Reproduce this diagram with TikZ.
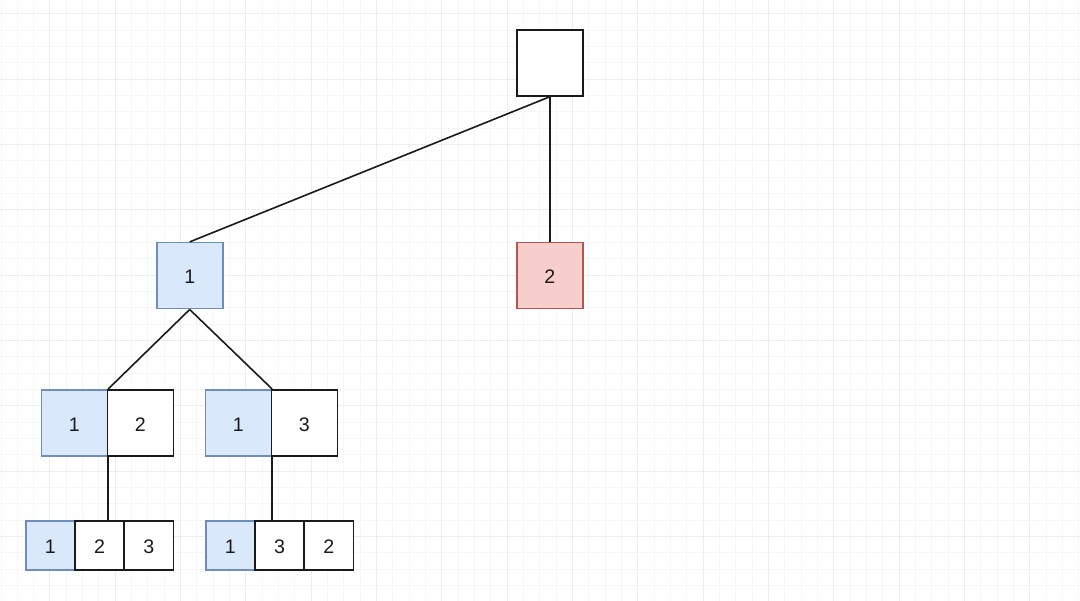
\documentclass[tikz,border=0pt]{standalone}
\usepackage{fontspec}
\setmainfont{Liberation Sans}
\definecolor{bluefill}{HTML}{DAE8FC}
\definecolor{bluedraw}{HTML}{6C8EBF}
\definecolor{redfill}{HTML}{F8CECC}
\definecolor{reddraw}{HTML}{B85450}
\definecolor{gridminor}{HTML}{F6F6F6}
\definecolor{gridmajor}{HTML}{EDEDED}
\definecolor{ink}{HTML}{1A1A1A}
\begin{document}
\begin{tikzpicture}[x=1pt,y=-1pt,
  cell/.style={draw=ink,fill=white,line width=1.6pt,inner sep=0pt,
    font=\fontsize{19.6}{23}\selectfont,text=ink,text height=16.6pt,text depth=0pt},
  bluecell/.style={cell,draw=bluedraw,fill=bluefill},
  redcell/.style={cell,draw=reddraw,fill=redfill},
  big/.style={minimum width=66pt,minimum height=66pt},
  small/.style={minimum width=49.2pt,minimum height=49pt},
  link/.style={draw=ink,line width=1.6pt}]
\useasboundingbox (0,0) rectangle (1080,601);
\fill[white] (0,0) rectangle (1080,601);
% grid
\foreach \k in {0,...,66}{
  \pgfmathsetmacro{\gx}{1.0+16.333*\k}
  \pgfmathtruncatemacro{\m}{mod(\k,4)}
  \ifnum\m=3
    \draw[gridmajor,line width=1pt] (\gx,0) -- (\gx,601);
  \else
    \draw[gridminor,line width=1pt] (\gx,0) -- (\gx,601);
  \fi
}
\foreach \k in {0,...,36}{
  \pgfmathsetmacro{\gy}{14+16.333*\k}
  \pgfmathtruncatemacro{\m}{mod(\k,4)}
  \ifnum\m=0
    \draw[gridmajor,line width=1pt] (0,\gy) -- (1080,\gy);
  \else
    \draw[gridminor,line width=1pt] (0,\gy) -- (1080,\gy);
  \fi
}
% nodes
\node[cell,big] (root) at (549.7,63) {};
\node[bluecell,big] (n1) at (189.7,275.7) {1};
\node[redcell,big] (n2) at (549.7,275.7) {2};
\node[bluecell,big] (a1) at (74.4,422.8) {1};
\node[cell,big] (a2) at (140.3,422.8) {2};
\node[bluecell,big] (b1) at (238.3,422.8) {1};
\node[cell,big] (b2) at (304.3,422.8) {3};
\node[bluecell,small] (c1) at (50.4,545.5) {1};
\node[cell,small] (c2) at (99.5,545.5) {2};
\node[cell,small] (c3) at (148.7,545.5) {3};
\node[bluecell,small] (d1) at (230.3,545.5) {1};
\node[cell,small] (d2) at (279.5,545.5) {3};
\node[cell,small] (d3) at (328.7,545.5) {2};
% connectors
\draw[link] (root.south) -- (n1.north);
\draw[link] (root.south) -- (n2.north);
\draw[link] (n1.south) -- (a1.north east);
\draw[link] (n1.south) -- (b1.north east);
\draw[link] (a1.south east) -- (a1.south east |- c2.north);
\draw[link] (b1.south east) -- (b1.south east |- d2.north);
% redraw white cells over joins
\node[cell,big] at (a2) {2};
\node[cell,big] at (b2) {3};
\end{tikzpicture}
\end{document}
